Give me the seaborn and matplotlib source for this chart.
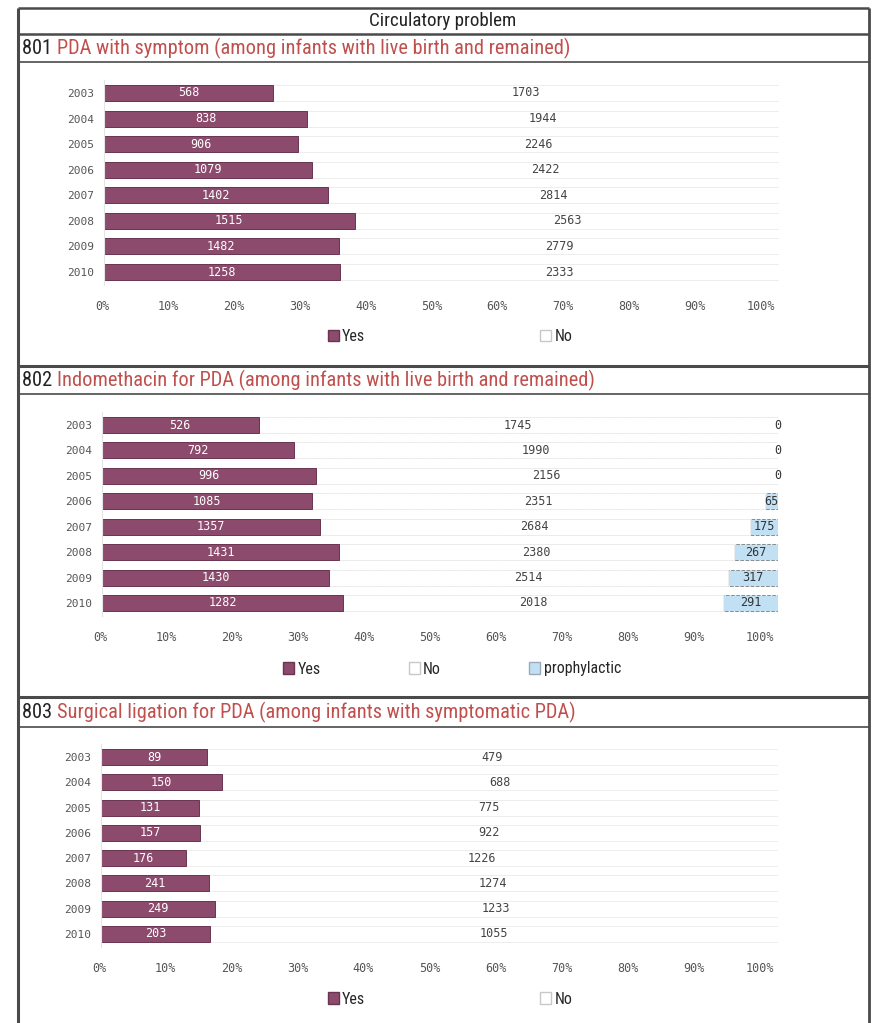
import matplotlib
matplotlib.use('Agg')
import matplotlib.pyplot as plt
import seaborn as sns
import pandas as pd
from matplotlib.patches import Patch
from matplotlib.ticker import PercentFormatter
from matplotlib.transforms import ScaledTranslation
from matplotlib import font_manager
from matplotlib.font_manager import FontProperties

# data
years = ['2003', '2004', '2005', '2006', '2007', '2008', '2009', '2010']
pda_yes = [568, 838, 906, 1079, 1402, 1515, 1482, 1258]
pda_no = [1703, 1944, 2246, 2422, 2814, 2563, 2779, 2333]
indo_yes = [526, 792, 996, 1085, 1357, 1431, 1430, 1282]
indo_no = [1745, 1990, 2156, 2351, 2684, 2380, 2514, 2018]
indo_proph = [0, 0, 0, 65, 175, 267, 317, 291]
lig_yes = [89, 150, 131, 157, 176, 241, 249, 203]
lig_no = [479, 688, 775, 922, 1226, 1274, 1233, 1055]

YES_C = '#8c4a6c'
YES_E = '#6a3450'
NO_C = '#ffffff'
NO_E = '#ededed'
PRO_C = '#c2e0f4'

sns.set_style('white')
mono = 'DejaVu Sans Mono'


def find_narrow():
    fl = font_manager.fontManager.ttflist
    prefs = ['Liberation Sans Narrow', 'Roboto Condensed', 'Open Sans Condensed',
             'Noto Sans Condensed', 'Arial Narrow']
    for p in prefs:
        for f in fl:
            if f.name == p and f.style == 'normal' and f.weight in (400, 'normal', 'regular'):
                return f.fname
    for f in fl:
        fn = f.fname.lower()
        if 'mono' in fn or 'bold' in fn or 'italic' in fn or 'oblique' in fn:
            continue
        if 'narrow' in fn or 'condensed' in fn:
            if 'semi' in fn or 'extra' in fn or 'ultra' in fn:
                continue
            return f.fname
    return None


narrow_file = find_narrow()


def fprop(size):
    if narrow_file:
        return FontProperties(fname=narrow_file, size=size)
    return FontProperties(family='Liberation Sans', size=size)


W, H = 873, 1023
fig = plt.figure(figsize=(W / 100, H / 100), dpi=100)

# fit the narrow header font to the width of the scanned header line
renderer = fig.canvas.get_renderer()
probe = fig.text(0, 0, '801 PDA with symptom (among infants with live birth and remained)',
                 fontproperties=fprop(14))
scale = min(1.05, 554 / probe.get_window_extent(renderer).width)
probe.remove()

# page frame drawn in pixel coordinates
bg = fig.add_axes([0, 0, 1, 1], zorder=-1)
bg.set_xlim(0, W)
bg.set_ylim(H, 0)
bg.axis('off')
frame = '#4a4a4a'
bg.vlines([18], 8, H, color=frame, lw=2.2)
bg.vlines([869], 8, H, color=frame, lw=2.0)
for y, lw in [(8, 1.8), (34, 1.8), (62, 1.2), (366, 2.2), (394, 1.2), (697, 2.2), (727, 1.2)]:
    bg.hlines(y, 18, 869, color=frame, lw=lw)
bg.text(443, 21, 'Circulatory problem', ha='center', va='center',
        fontproperties=fprop(13 * scale), color='#222')

headers = [
    (48, '801', 'PDA with symptom (among infants with live birth and remained)'),
    (380, '802', 'Indomethacin for PDA (among infants with live birth and remained)'),
    (712, '803', 'Surgical ligation for PDA (among infants with symptomatic PDA)'),
]
for y, num, txt in headers:
    t = bg.text(22, y, num + ' ', ha='left', va='center', fontproperties=fprop(14 * scale),
                color='#222')
    bg.annotate(txt, xy=(1, 0.5), xycoords=t, ha='left', va='center',
                fontproperties=fprop(14 * scale), color='#c0504d')


def px_box(x0, x1, y0, y1):
    return [x0 / W, 1 - y1 / H, (x1 - x0) / W, (y1 - y0) / H]


def draw_panel(ax, df, cols, colors, edges, styles, txtcolors):
    share = df[cols].div(df[cols].sum(axis=1), axis=0)
    cum = share.cumsum(axis=1)
    for col, c, e, ls in reversed(list(zip(cols, colors, edges, styles))):
        sns.barplot(x=cum[col].values, y=df['year'], orient='h', color=c, edgecolor=e,
                    linewidth=0.7, linestyle=ls, width=0.63, saturation=1, ax=ax)
    for col, tc in zip(cols, txtcolors):
        centers = cum[col] - share[col] / 2
        for i, (cx, v) in enumerate(zip(centers, df[col])):
            ax.text(cx, i, str(v), ha='center', va='center', fontsize=8.5,
                    family=mono, color=tc)
    ax.set_xlim(0, 1)
    ax.set_ylim(7.5, -0.5)
    ax.set_xticks([i / 10 for i in range(11)])
    ax.xaxis.set_major_formatter(PercentFormatter(1.0, decimals=0))
    ax.tick_params(axis='x', length=0, pad=11, labelsize=8.5, labelcolor='#555')
    ax.tick_params(axis='y', length=0, pad=7, labelsize=8, labelcolor='#555')
    for lab in ax.get_xticklabels() + ax.get_yticklabels():
        lab.set_family(mono)
    # the scanned tick labels sit on a slightly tighter scale than the bars
    for i, lab in enumerate(ax.get_xticklabels()):
        dx = -(1.5 + 1.7 * i) / 100
        lab.set_transform(lab.get_transform() + ScaledTranslation(dx, 0, fig.dpi_scale_trans))
    ax.set_xlabel('')
    ax.set_ylabel('')
    for s in ['top', 'right', 'bottom']:
        ax.spines[s].set_visible(False)
    ax.spines['left'].set_color('#e4e4e4')
    ax.spines['left'].set_linewidth(0.8)


yes_h = Patch(facecolor=YES_C, edgecolor=YES_E, label='Yes')
no_h = Patch(facecolor=NO_C, edgecolor='#c8c8c8', label='No')
pro_h = Patch(facecolor=PRO_C, edgecolor='#9ab', label='prophylactic')
leg_kw = dict(loc='center', frameon=False, handlelength=0.7, handleheight=0.7,
              handletextpad=0.2, prop=fprop(11 * scale))

# 801
df1 = pd.DataFrame({'year': years, 'Yes': pda_yes, 'No': pda_no})
ax1 = fig.add_axes(px_box(104, 779, 80.2, 284.8))
draw_panel(ax1, df1, ['Yes', 'No'], [YES_C, NO_C], [YES_E, NO_E],
           ['-', '-'], ['white', '#444'])
fig.legend(handles=[yes_h, no_h], bbox_to_anchor=(450 / W, 1 - 337 / H),
           ncol=2, columnspacing=10.9, **leg_kw)

# 802
df2 = pd.DataFrame({'year': years, 'Yes': indo_yes, 'No': indo_no, 'prophylactic': indo_proph})
ax2 = fig.add_axes(px_box(102, 778, 412.3, 615.7))
draw_panel(ax2, df2, ['Yes', 'No', 'prophylactic'], [YES_C, NO_C, PRO_C],
           [YES_E, NO_E, '#8a8a8a'], ['-', '-', '--'], ['white', '#444', '#333'])
fig.legend(handles=[yes_h, no_h, pro_h], bbox_to_anchor=(452 / W, 1 - 669 / H),
           ncol=3, columnspacing=5.5, **leg_kw)

# 803
df3 = pd.DataFrame({'year': years, 'Yes': lig_yes, 'No': lig_no})
ax3 = fig.add_axes(px_box(101, 778, 744.4, 946.6))
draw_panel(ax3, df3, ['Yes', 'No'], [YES_C, NO_C], [YES_E, NO_E],
           ['-', '-'], ['white', '#444'])
fig.legend(handles=[yes_h, no_h], bbox_to_anchor=(450 / W, 1 - 999 / H),
           ncol=2, columnspacing=10.9, **leg_kw)

fig.savefig('out.png', dpi=100)
